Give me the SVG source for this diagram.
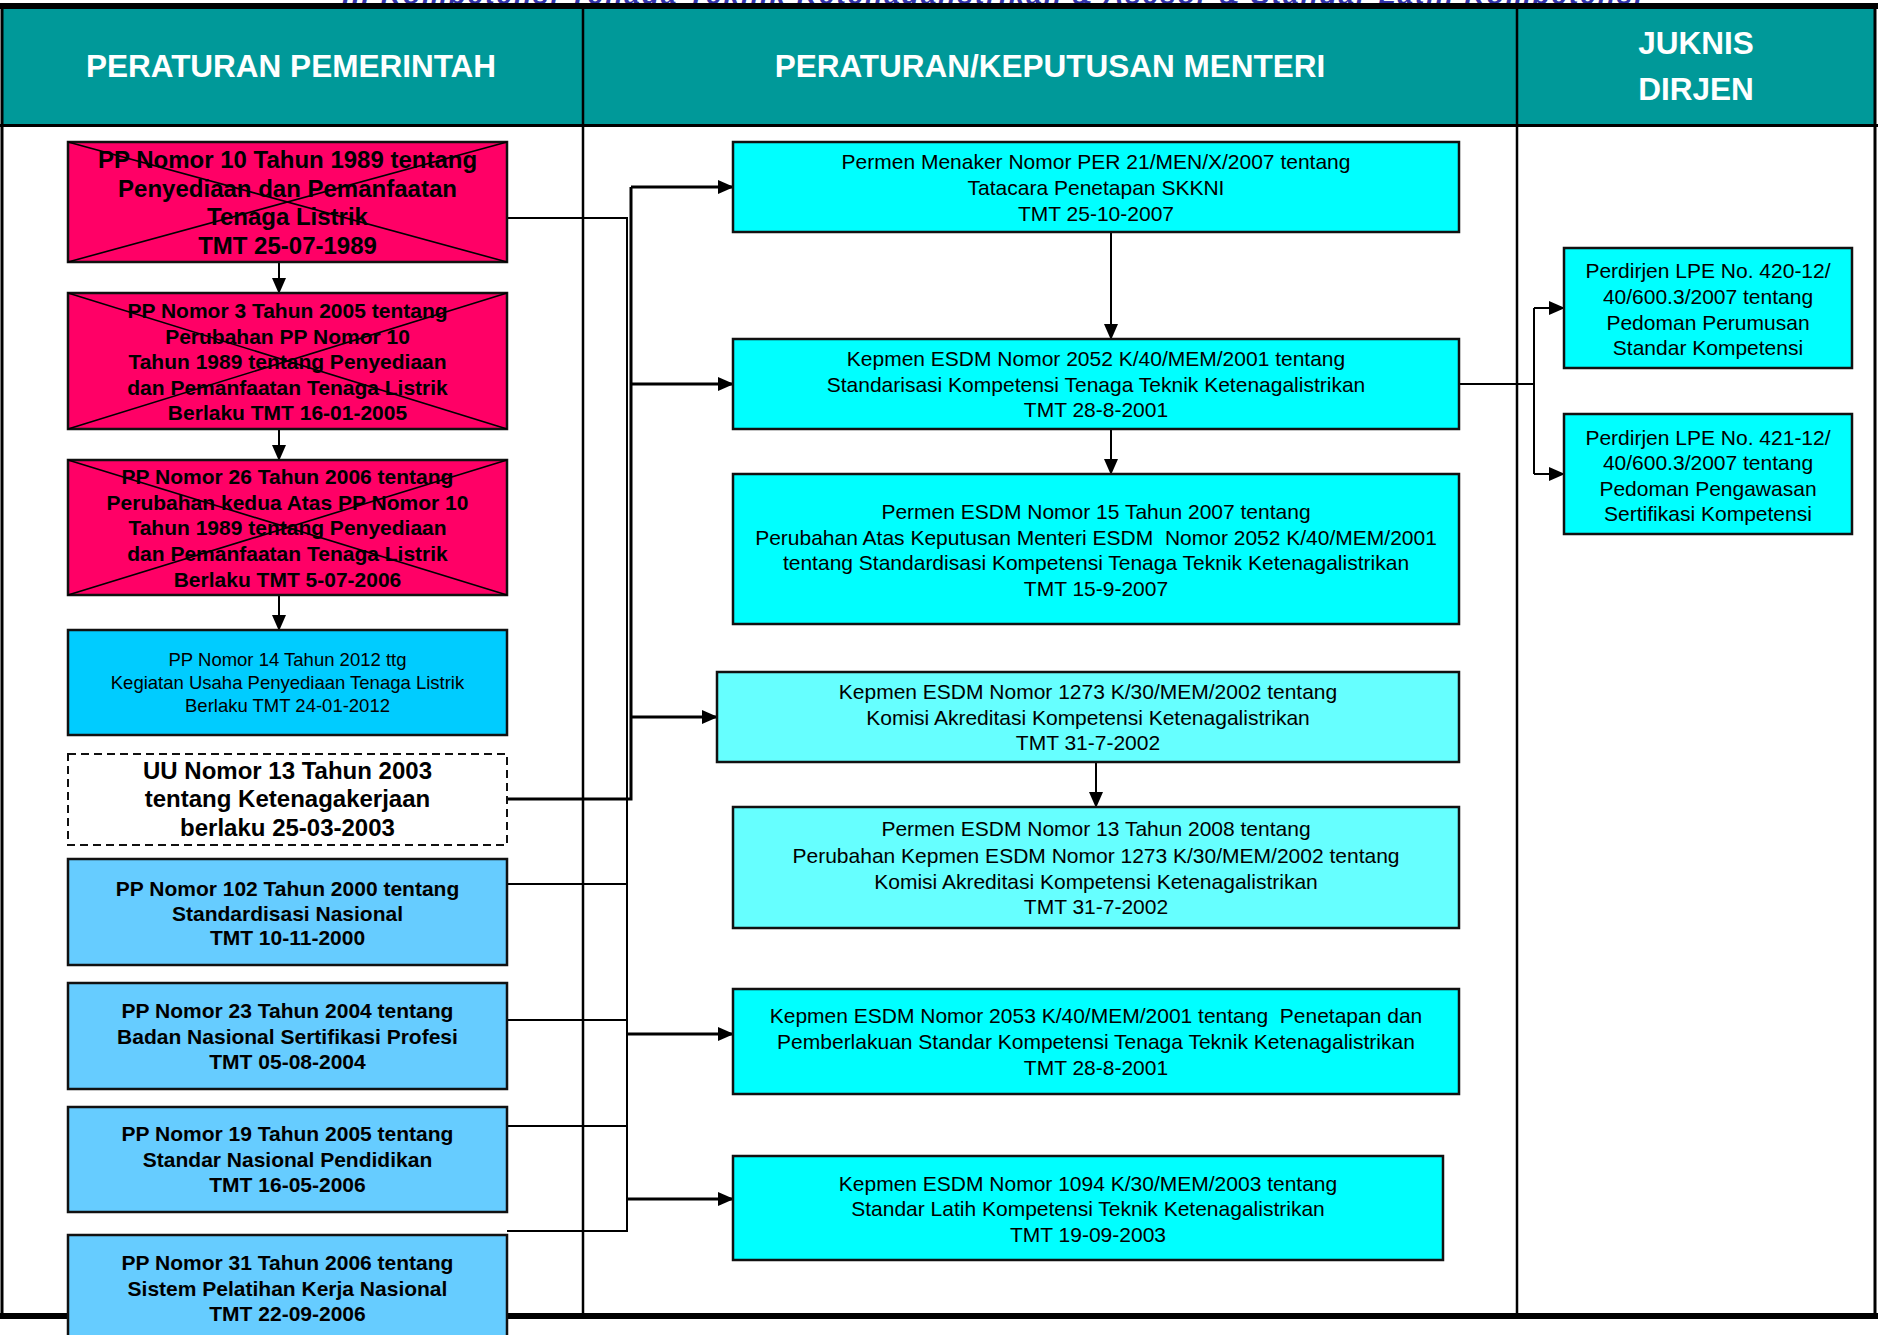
<svg xmlns="http://www.w3.org/2000/svg" width="1878" height="1335" viewBox="0 0 1878 1335">
<style>
text{font-family:"Liberation Sans",Arial,sans-serif;text-anchor:middle;fill:#000}
.hd{font-size:31.5px;font-weight:bold;fill:#fff}
.b24{font-size:24px;font-weight:bold}
.b21{font-size:21px;font-weight:bold}
.r21{font-size:21px}
.r18{font-size:18.5px}
.box{stroke:#111;stroke-width:2.5}
.pink{fill:#ff0066}
.cyan{fill:#00ffff}
.lcyan{fill:#66ffff}
.lblue{fill:#66ccff}
.sky{fill:#00ccff}
.x{stroke:#000;stroke-width:1.6}
.ln{fill:none;stroke:#000;stroke-width:2}
.lnb{fill:none;stroke:#000;stroke-width:3}
.frame{stroke:#000;fill:none}
</style>
<defs>
<marker id="ah" markerUnits="userSpaceOnUse" markerWidth="16" markerHeight="14" refX="15" refY="7" orient="auto">
<path d="M0,0 L16,7 L0,14 Z" fill="#000"/>
</marker>
</defs>
<rect x="0" y="0" width="1878" height="1335" fill="#fff"/>
<g id="title">
<text x="992" y="4" style="font-size:28px;font-weight:bold;font-style:italic;fill:#3333aa" textLength="1300">II. Kompetensi Tenaga Teknik Ketenagalistrikan &amp; Asesor &amp; Standar Latih Kompetensi</text>
</g>
<g id="header">
<rect x="2" y="8" width="1874" height="117" fill="#009999"/>
<rect x="0" y="3" width="1878" height="6" fill="#000"/>
<line x1="0" y1="125.5" x2="1878" y2="125.5" stroke="#000" stroke-width="3"/>
<text class="hd" x="291" y="77">PERATURAN PEMERINTAH</text>
<text class="hd" x="1050" y="77">PERATURAN/KEPUTUSAN MENTERI</text>
<text class="hd" x="1696" y="54">JUKNIS</text>
<text class="hd" x="1696" y="100">DIRJEN</text>
</g>
<g id="frame">
<line class="frame" x1="2" y1="8" x2="2" y2="1318" stroke-width="3"/>
<line class="frame" x1="583" y1="8" x2="583" y2="1318" stroke-width="2.5"/>
<line class="frame" x1="1517" y1="8" x2="1517" y2="1318" stroke-width="2.5"/>
<line class="frame" x1="1875" y1="8" x2="1875" y2="1318" stroke-width="3"/>
<line class="frame" x1="0" y1="1316" x2="1878" y2="1316" stroke-width="6"/>
</g>
<g id="connectors">
<line class="ln" x1="279" y1="262" x2="279" y2="293" marker-end="url(#ah)"/>
<line class="ln" x1="279" y1="429" x2="279" y2="460" marker-end="url(#ah)"/>
<line class="ln" x1="279" y1="595" x2="279" y2="630" marker-end="url(#ah)"/>
<polyline class="ln" points="507,218 627,218 627,1231 507,1231"/>
<line class="ln" x1="507" y1="884" x2="627" y2="884"/>
<line class="ln" x1="507" y1="1020" x2="627" y2="1020"/>
<line class="ln" x1="507" y1="1126" x2="627" y2="1126"/>
<polyline class="lnb" points="507,799 631,799 631,187"/>
<line class="lnb" x1="631" y1="187" x2="733" y2="187" marker-end="url(#ah)"/>
<line class="lnb" x1="631" y1="384" x2="733" y2="384" marker-end="url(#ah)"/>
<line class="lnb" x1="631" y1="717" x2="717" y2="717" marker-end="url(#ah)"/>
<line class="lnb" x1="627" y1="1034" x2="733" y2="1034" marker-end="url(#ah)"/>
<line class="lnb" x1="627" y1="1199" x2="733" y2="1199" marker-end="url(#ah)"/>
<line class="ln" x1="1111" y1="232" x2="1111" y2="339" marker-end="url(#ah)"/>
<line class="ln" x1="1111" y1="429" x2="1111" y2="474" marker-end="url(#ah)"/>
<line class="ln" x1="1096" y1="762" x2="1096" y2="807" marker-end="url(#ah)"/>
<line class="ln" x1="1459" y1="384" x2="1534" y2="384"/>
<line class="ln" x1="1534" y1="308" x2="1534" y2="474"/>
<line class="ln" x1="1534" y1="308" x2="1564" y2="308" marker-end="url(#ah)"/>
<line class="ln" x1="1534" y1="474" x2="1564" y2="474" marker-end="url(#ah)"/>
</g>
<g id="pp10">
<rect class="box pink" x="68" y="142" width="439" height="120"/>
<line class="x" x1="68" y1="142" x2="507" y2="262"/><line class="x" x1="507" y1="142" x2="68" y2="262"/>
<text class="b24" x="287.5" y="168">PP Nomor 10 Tahun 1989 tentang</text>
<text class="b24" x="287.5" y="196.7">Penyediaan dan Pemanfaatan</text>
<text class="b24" x="287.5" y="225.4">Tenaga Listrik</text>
<text class="b24" x="287.5" y="254">TMT 25-07-1989</text>
</g>
<g id="pp3">
<rect class="box pink" x="68" y="293" width="439" height="136"/>
<line class="x" x1="68" y1="293" x2="507" y2="429"/><line class="x" x1="507" y1="293" x2="68" y2="429"/>
<text class="b21" x="287.5" y="318">PP Nomor 3 Tahun 2005 tentang</text>
<text class="b21" x="287.5" y="343.5">Perubahan PP Nomor 10</text>
<text class="b21" x="287.5" y="369">Tahun 1989 tentang Penyediaan</text>
<text class="b21" x="287.5" y="394.5">dan Pemanfaatan Tenaga Listrik</text>
<text class="b21" x="287.5" y="420">Berlaku TMT 16-01-2005</text>
</g>
<g id="pp26">
<rect class="box pink" x="68" y="460" width="439" height="135"/>
<line class="x" x1="68" y1="460" x2="507" y2="595"/><line class="x" x1="507" y1="460" x2="68" y2="595"/>
<text class="b21" x="287.5" y="484">PP Nomor 26 Tahun 2006 tentang</text>
<text class="b21" x="287.5" y="509.7">Perubahan kedua Atas PP Nomor 10</text>
<text class="b21" x="287.5" y="535.4">Tahun 1989 tentang Penyediaan</text>
<text class="b21" x="287.5" y="561">dan Pemanfaatan Tenaga Listrik</text>
<text class="b21" x="287.5" y="587">Berlaku TMT 5-07-2006</text>
</g>
<g id="pp14">
<rect class="box sky" x="68" y="630" width="439" height="105"/>
<text class="r18" x="287.5" y="666">PP Nomor 14 Tahun 2012 ttg</text>
<text class="r18" x="287.5" y="689">Kegiatan Usaha Penyediaan Tenaga Listrik</text>
<text class="r18" x="287.5" y="712">Berlaku TMT 24-01-2012</text>
</g>
<g id="uu13">
<rect x="68" y="754" width="439" height="91" fill="#fff" stroke="#111" stroke-width="2" stroke-dasharray="8,5"/>
<text class="b24" x="287.5" y="778.5">UU Nomor 13 Tahun 2003</text>
<text class="b24" x="287.5" y="807">tentang Ketenagakerjaan</text>
<text class="b24" x="287.5" y="836">berlaku 25-03-2003</text>
</g>
<g id="pp102">
<rect class="box lblue" x="68" y="859" width="439" height="106"/>
<text class="b21" x="287.5" y="896">PP Nomor 102 Tahun 2000 tentang</text>
<text class="b21" x="287.5" y="921">Standardisasi Nasional</text>
<text class="b21" x="287.5" y="945">TMT 10-11-2000</text>
</g>
<g id="pp23">
<rect class="box lblue" x="68" y="983" width="439" height="106"/>
<text class="b21" x="287.5" y="1018">PP Nomor 23 Tahun 2004 tentang</text>
<text class="b21" x="287.5" y="1043.5">Badan Nasional Sertifikasi Profesi</text>
<text class="b21" x="287.5" y="1068.5">TMT 05-08-2004</text>
</g>
<g id="pp19">
<rect class="box lblue" x="68" y="1107" width="439" height="105"/>
<text class="b21" x="287.5" y="1140.5">PP Nomor 19 Tahun 2005 tentang</text>
<text class="b21" x="287.5" y="1166.5">Standar Nasional Pendidikan</text>
<text class="b21" x="287.5" y="1192">TMT 16-05-2006</text>
</g>
<g id="pp31">
<rect class="box lblue" x="68" y="1235" width="439" height="110"/>
<text class="b21" x="287.5" y="1270">PP Nomor 31 Tahun 2006 tentang</text>
<text class="b21" x="287.5" y="1295.5">Sistem Pelatihan Kerja Nasional</text>
<text class="b21" x="287.5" y="1321">TMT 22-09-2006</text>
</g>
<g id="permen-menaker">
<rect class="box cyan" x="733" y="142" width="726" height="90"/>
<text class="r21" x="1096" y="169">Permen Menaker Nomor PER 21/MEN/X/2007 tentang</text>
<text class="r21" x="1096" y="195">Tatacara Penetapan SKKNI</text>
<text class="r21" x="1096" y="220.6">TMT 25-10-2007</text>
</g>
<g id="kepmen-2052">
<rect class="box cyan" x="733" y="339" width="726" height="90"/>
<text class="r21" x="1096" y="365.5">Kepmen ESDM Nomor 2052 K/40/MEM/2001 tentang</text>
<text class="r21" x="1096" y="391.5">Standarisasi Kompetensi Tenaga Teknik Ketenagalistrikan</text>
<text class="r21" x="1096" y="417">TMT 28-8-2001</text>
</g>
<g id="permen-15">
<rect class="box cyan" x="733" y="474" width="726" height="150"/>
<text class="r21" x="1096" y="519">Permen ESDM Nomor 15 Tahun 2007 tentang</text>
<text class="r21" x="1096" y="545" xml:space="preserve">Perubahan Atas Keputusan Menteri ESDM  Nomor 2052 K/40/MEM/2001</text>
<text class="r21" x="1096" y="570.4">tentang Standardisasi Kompetensi Tenaga Teknik Ketenagalistrikan</text>
<text class="r21" x="1096" y="596">TMT 15-9-2007</text>
</g>
<g id="kepmen-1273">
<rect class="box lcyan" x="717" y="672" width="742" height="90"/>
<text class="r21" x="1088" y="698.5">Kepmen ESDM Nomor 1273 K/30/MEM/2002 tentang</text>
<text class="r21" x="1088" y="724.5">Komisi Akreditasi Kompetensi Ketenagalistrikan</text>
<text class="r21" x="1088" y="750">TMT 31-7-2002</text>
</g>
<g id="permen-13">
<rect class="box lcyan" x="733" y="807" width="726" height="121"/>
<text class="r21" x="1096" y="836">Permen ESDM Nomor 13 Tahun 2008 tentang</text>
<text class="r21" x="1096" y="862.5">Perubahan Kepmen ESDM Nomor 1273 K/30/MEM/2002 tentang</text>
<text class="r21" x="1096" y="889">Komisi Akreditasi Kompetensi Ketenagalistrikan</text>
<text class="r21" x="1096" y="914">TMT 31-7-2002</text>
</g>
<g id="kepmen-2053">
<rect class="box cyan" x="733" y="989" width="726" height="105"/>
<text class="r21" x="1096" y="1023" xml:space="preserve">Kepmen ESDM Nomor 2053 K/40/MEM/2001 tentang  Penetapan dan</text>
<text class="r21" x="1096" y="1049">Pemberlakuan Standar Kompetensi Tenaga Teknik Ketenagalistrikan</text>
<text class="r21" x="1096" y="1074.5">TMT 28-8-2001</text>
</g>
<g id="kepmen-1094">
<rect class="box cyan" x="733" y="1156" width="710" height="104"/>
<text class="r21" x="1088" y="1190.7">Kepmen ESDM Nomor 1094 K/30/MEM/2003 tentang</text>
<text class="r21" x="1088" y="1216">Standar Latih Kompetensi Teknik Ketenagalistrikan</text>
<text class="r21" x="1088" y="1242">TMT 19-09-2003</text>
</g>
<g id="perdirjen-420">
<rect class="box cyan" x="1564" y="248" width="288" height="120"/>
<text class="r21" x="1708" y="278">Perdirjen LPE No. 420-12/</text>
<text class="r21" x="1708" y="304">40/600.3/2007 tentang</text>
<text class="r21" x="1708" y="329.6">Pedoman Perumusan</text>
<text class="r21" x="1708" y="355">Standar Kompetensi</text>
</g>
<g id="perdirjen-421">
<rect class="box cyan" x="1564" y="414" width="288" height="120"/>
<text class="r21" x="1708" y="444.6">Perdirjen LPE No. 421-12/</text>
<text class="r21" x="1708" y="470">40/600.3/2007 tentang</text>
<text class="r21" x="1708" y="495.5">Pedoman Pengawasan</text>
<text class="r21" x="1708" y="521">Sertifikasi Kompetensi</text>
</g>
</svg>
